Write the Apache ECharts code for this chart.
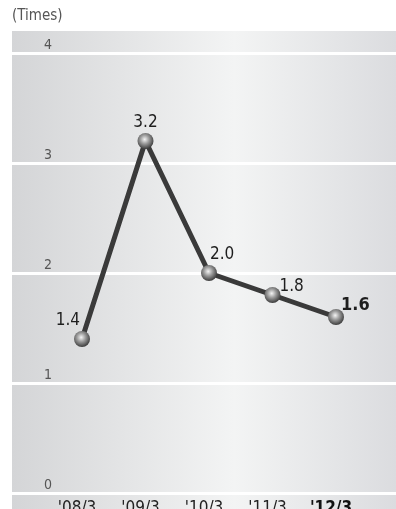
<!DOCTYPE html>
<html>
<head>
<meta charset="utf-8">
<script src="https://cdn.jsdelivr.net/npm/echarts@6/dist/echarts.min.js"></script>
<style>
  html, body { margin: 0; padding: 0; background: #ffffff; }
  #chart { width: 396px; height: 509px; }
</style>
</head>
<body>
<div id="chart"></div>
<script>
// Ratio by fiscal year-end (times)
const categories = ["'08/3", "'09/3", "'10/3", "'11/3", "'12/3"];
const values = [1.4, 3.2, 2.0, 1.8, 1.6];
const yTicks = [0, 1, 2, 3, 4];

const FONT = '"DejaVu Sans Condensed", "Liberation Sans Narrow", "Roboto", sans-serif';

// value labels anchored at each sphere's centre, then nudged
const labelStyles = [
  { align: 'right', offset: [-2, -10], fontSize: 17 },
  { align: 'center', offset: [0, -10], fontSize: 17 },
  { align: 'left', offset: [1, -10], fontSize: 17 },
  { align: 'left', offset: [7, 0], fontSize: 17 },
  { align: 'left', offset: [5, -3], fontSize: 18, fontWeight: 'bold' }
];

const sphere = {
  type: 'radial', x: 0.45, y: 0.4, r: 0.6,
  colorStops: [
    { offset: 0, color: '#f4f4f4' },
    { offset: 0.45, color: '#9c9c9c' },
    { offset: 1, color: '#3c3c3c' }
  ]
};

const chart = echarts.init(document.getElementById('chart'), null, { renderer: 'canvas' });

chart.setOption({
  animation: false,
  graphic: [
    {
      type: 'rect', z: -10,
      shape: { x: 12, y: 31, width: 384, height: 478 },
      style: {
        fill: {
          type: 'linear', x: 0, y: 0, x2: 1, y2: 0,
          colorStops: [
            { offset: 0, color: '#d4d5d7' },
            { offset: 0.58, color: '#f3f4f4' },
            { offset: 1, color: '#dbdcdf' }
          ]
        }
      }
    },
    {
      type: 'text', left: 12, top: 9,
      style: { text: '(Times)', font: '15px ' + FONT, fill: '#555555' }
    }
  ],
  grid: [
    { left: 12, right: 0, top: 53, bottom: 16, outerBoundsMode: 'none', containLabel: false },
    { left: 82, width: 254, top: 53, bottom: 16, outerBoundsMode: 'none', containLabel: false }
  ],
  xAxis: [
    {
      gridIndex: 0, type: 'value', min: 0, max: 1, show: false
    },
    {
      gridIndex: 1, type: 'category', data: categories, boundaryGap: false,
      axisLine: { show: false }, axisTick: { show: false },
      axisLabel: {
        interval: 0, margin: 7, hideOverlap: false, padding: [0, 10, 0, 0],
        fontFamily: FONT, fontSize: 17, color: '#222222',
        formatter: function (v, i) { return i === categories.length - 1 ? '{b|' + v + '}' : v; },
        rich: { b: { fontFamily: FONT, fontSize: 17, fontWeight: 'bold', color: '#111111' } }
      }
    }
  ],
  yAxis: [
    {
      gridIndex: 0, type: 'value', min: yTicks[0], max: yTicks[yTicks.length - 1], interval: 1,
      axisLine: { show: false }, axisTick: { show: false },
      splitLine: { show: true, lineStyle: { color: '#ffffff', width: 3 } },
      axisLabel: {
        inside: true, margin: 32, verticalAlign: 'bottom', padding: [0, 0, 1, 0],
        fontFamily: FONT, fontSize: 14, color: '#555555'
      }
    },
    {
      gridIndex: 1, type: 'value', min: yTicks[0], max: yTicks[yTicks.length - 1], interval: 1,
      show: false, splitLine: { show: false }
    }
  ],
  series: [
    {
      type: 'line', xAxisIndex: 1, yAxisIndex: 1,
      data: values.map(function (v, i) {
        return {
          value: v,
          label: Object.assign({
            show: true, position: [8, 8], verticalAlign: 'bottom',
            fontFamily: FONT, color: '#1e1e1e',
            formatter: function (p) { return p.value.toFixed(1); }
          }, labelStyles[i])
        };
      }),
      lineStyle: { color: '#3a3a3a', width: 5 },
      symbol: 'circle', symbolSize: 16,
      itemStyle: { color: sphere, borderWidth: 0 },
      z: 5
    }
  ]
});
</script>
</body>
</html>
